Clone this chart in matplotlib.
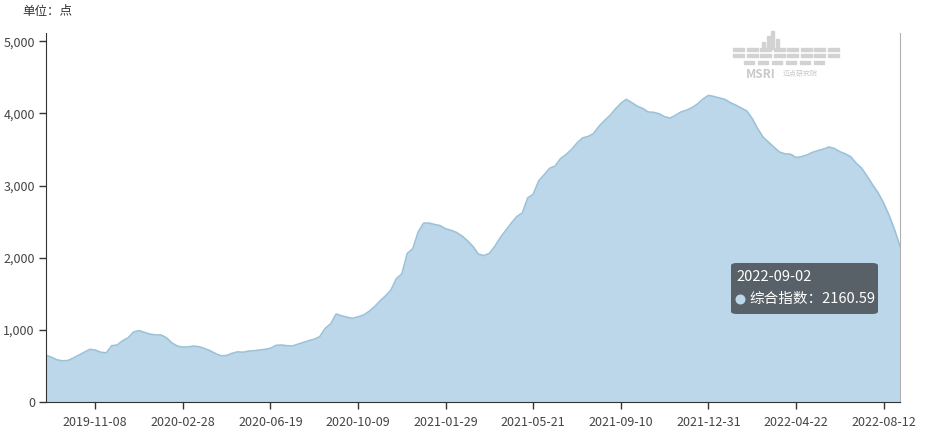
import matplotlib
matplotlib.use("Agg")
import matplotlib.pyplot as plt
from matplotlib.patches import FancyBboxPatch, Rectangle, Ellipse
import numpy as np
import pandas as pd

plt.rcParams['font.family'] = ['Noto Sans CJK SC', 'DejaVu Sans']

dates = pd.date_range('2019-09-06', periods=157, freq='7D').strftime('%Y-%m-%d').tolist()
values = [
    650, 620, 585, 570, 575, 610, 650, 690, 730, 720,
    690, 680, 780, 790, 850, 890, 970, 990, 965, 940,
    930, 930, 890, 820, 775, 760, 765, 775, 765, 740,
    710, 670, 640, 645, 675, 695, 690, 705, 710, 720,
    730, 745, 785, 790, 780, 776, 800, 825, 850, 870,
    905, 1020, 1085, 1220, 1195, 1175, 1160, 1180, 1205, 1255,
    1320, 1400, 1470, 1550, 1710, 1775, 2060, 2125, 2360, 2480,
    2480, 2460, 2445, 2400, 2380, 2350, 2300, 2235, 2155, 2050,
    2030, 2060, 2160, 2280, 2380, 2480, 2570, 2620, 2830, 2880,
    3065, 3150, 3240, 3270, 3375, 3430, 3500, 3590, 3660, 3680,
    3720, 3820, 3900, 3970, 4060, 4140, 4195, 4150, 4100, 4070,
    4020, 4015, 3995, 3955, 3935, 3975, 4020, 4045, 4080, 4130,
    4200, 4250, 4235, 4215, 4195, 4150, 4115, 4075, 4035, 3930,
    3790, 3670, 3600, 3530, 3465, 3440, 3435, 3390, 3400, 3425,
    3460, 3485, 3505, 3535, 3515, 3470, 3440, 3400, 3310, 3240,
    3130, 3010, 2900, 2760, 2590, 2390, 2160.59,
]
series_name = '综合指数'
unit_label = '单位：点'
y_ticks = [0, 1000, 2000, 3000, 4000, 5000]
tick_every = 16
tick_start = 9

W, H = 926, 433
fig = plt.figure(figsize=(W / 100, H / 100), dpi=100)
ax = fig.add_axes([46 / W, 31 / H, 854 / W, (402 - 33) / H])

x = np.arange(len(values))
ax.fill_between(x, values, 0, color='#bdd7ea', linewidth=0)
ax.plot(x, values, color='#9cc2d8', linewidth=1.2)

ax.set_xlim(0, len(values) - 1)
ax.set_ylim(0, 5115)

ax.set_yticks(y_ticks)
ax.set_yticklabels([f'{v:,}' for v in y_ticks])
xt = list(range(tick_start, len(values), tick_every))
ax.set_xticks(xt)
ax.set_xticklabels([dates[i] for i in xt])

ax.tick_params(axis='both', colors='#333333', labelsize=9, length=5, width=1, direction='out')
ax.tick_params(axis='x', pad=5)
ax.tick_params(axis='y', pad=3)
for lab in ax.get_xticklabels() + ax.get_yticklabels():
    lab.set_color('#444444')

ax.spines['top'].set_visible(False)
ax.spines['left'].set_color('#333333')
ax.spines['bottom'].set_color('#333333')
ax.spines['right'].set_color('#b0b0b0')
ax.spines['right'].set_linewidth(0.8)

fig.text(22 / W, 1 - 11 / H, unit_label, fontsize=9, color='#333333', va='center', ha='left')

# watermark logo
logo = '#d2d2d2'
def frect(x0, y0, w, h, c=logo):
    fig.patches.append(Rectangle((x0 / W, 1 - (y0 + h) / H), w / W, h / H,
                                 transform=fig.transFigure, color=c, zorder=5))
for (bx, by, bh) in [(762, 42, 7), (767, 36, 13), (771, 31, 18), (776, 39, 10)]:
    frect(bx, by, 3, bh)
for row_y in [48, 54]:
    for k in range(8):
        frect(733 + k * 13.5, row_y, 11, 3)
for k in range(6):
    frect(744 + k * 14, 61, 10, 2.5)
fig.text(746 / W, 1 - 74 / H, 'MSRI', fontsize=8.5, color='#c8c8c8', fontweight='bold',
         va='center', ha='left', zorder=6)
fig.text(783 / W, 1 - 74 / H, '迈点研究院', fontsize=5, color='#c8c8c8',
         va='center', ha='left', zorder=6)

# tooltip
tip = FancyBboxPatch((731 / W, 1 - 314 / H), 147 / W, 51 / H,
                     boxstyle='round,pad=0,rounding_size=0.006',
                     transform=fig.transFigure, facecolor='#50575c', edgecolor='none',
                     alpha=0.92, zorder=10)
fig.patches.append(tip)
fig.text(736 / W, 1 - 277 / H, dates[-1], fontsize=10.5, color='white',
         va='center', ha='left', zorder=11)
fig.patches.append(Ellipse((740.5 / W, 1 - 299.5 / H), 10 / W, 10 / H, transform=fig.transFigure,
                           facecolor='#bdd7ea', edgecolor='none', zorder=11))
fig.text(749 / W, 1 - 299 / H, f'{series_name}：{values[-1]:.2f}', fontsize=10.5,
         color='white', va='center', ha='left', zorder=11)

fig.savefig('out.png', dpi=100)
